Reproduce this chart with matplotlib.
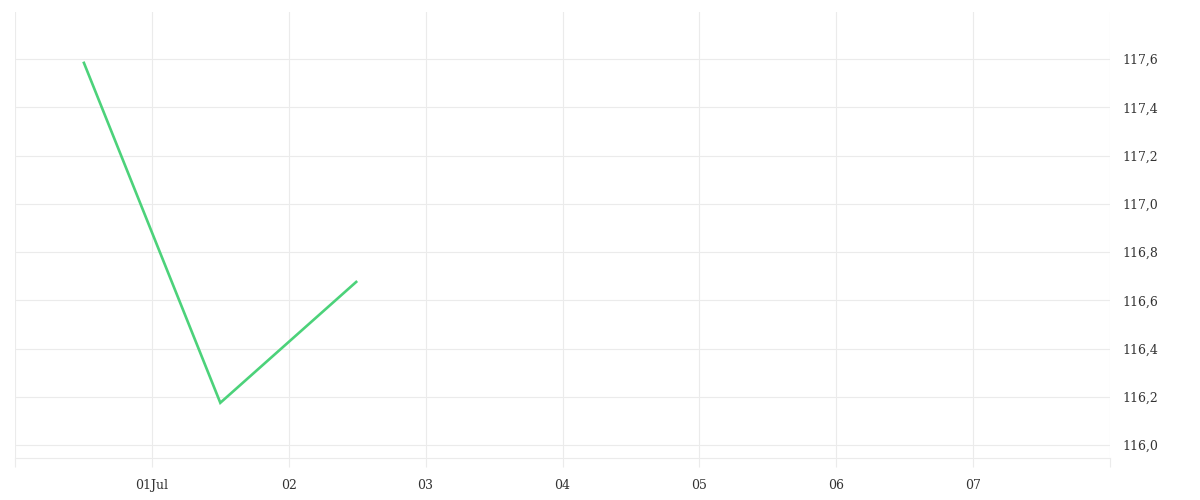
import matplotlib
matplotlib.use("Agg")
import matplotlib.pyplot as plt
import matplotlib.dates as mdates
from matplotlib.ticker import FuncFormatter, FixedLocator
import numpy as np

# data
dates = np.array(["2024-06-30T12:00", "2024-07-01T12:00", "2024-07-02T12:00"], dtype="datetime64[m]")
values = [117.59, 116.175, 116.68]

tick_days = np.arange(np.datetime64("2024-06-30"), np.datetime64("2024-07-09"))
y_ticks = [116.0, 116.2, 116.4, 116.6, 116.8, 117.0, 117.2, 117.4, 117.6]

grid_col = "#ebebeb"
text_col = "#333333"
line_col = "#4cd27a"

plt.rcParams["font.family"] = ["DejaVu Serif"]

fig = plt.figure(figsize=(12, 5), dpi=100)
ax = fig.add_axes([15 / 1200, 1 - 458 / 500, (1110 - 15) / 1200, (458 - 12) / 500])

ax.plot(dates.astype("datetime64[ms]").astype(object), values, color=line_col, lw=1.9,
        solid_capstyle="butt", solid_joinstyle="miter")

ax.set_xlim(tick_days[0].astype(object), tick_days[-1].astype(object))
ax.set_ylim(115.946, 117.796)

# x ticks: every day, labels only inside the range
xt = [mdates.date2num(d.astype(object)) for d in tick_days]
ax.xaxis.set_major_locator(FixedLocator(xt))

def xfmt(v, pos):
    d = mdates.num2date(v)
    if pos == 0 or pos == len(xt) - 1:
        return ""
    if d.day == 1:
        return d.strftime("%d%b")
    return d.strftime("%d")

ax.xaxis.set_major_formatter(FuncFormatter(xfmt))
ax.tick_params(axis="x", length=6.5, width=0.8, color=grid_col, pad=8.6,
               labelsize=9, labelcolor=text_col)

ax.yaxis.tick_right()
ax.set_yticks(y_ticks)
ax.yaxis.set_major_formatter(FuncFormatter(lambda v, p: f"{v:.1f}".replace(".", ",")))
ax.tick_params(axis="y", length=0, pad=8.6, labelsize=9, labelcolor=text_col)

ax.grid(True, color=grid_col, lw=0.8)
ax.set_axisbelow(True)
for s in ["top", "left", "right"]:
    ax.spines[s].set_visible(False)
ax.spines["bottom"].set_color(grid_col)
ax.spines["bottom"].set_linewidth(0.8)

fig.savefig("out.png", dpi=100)
